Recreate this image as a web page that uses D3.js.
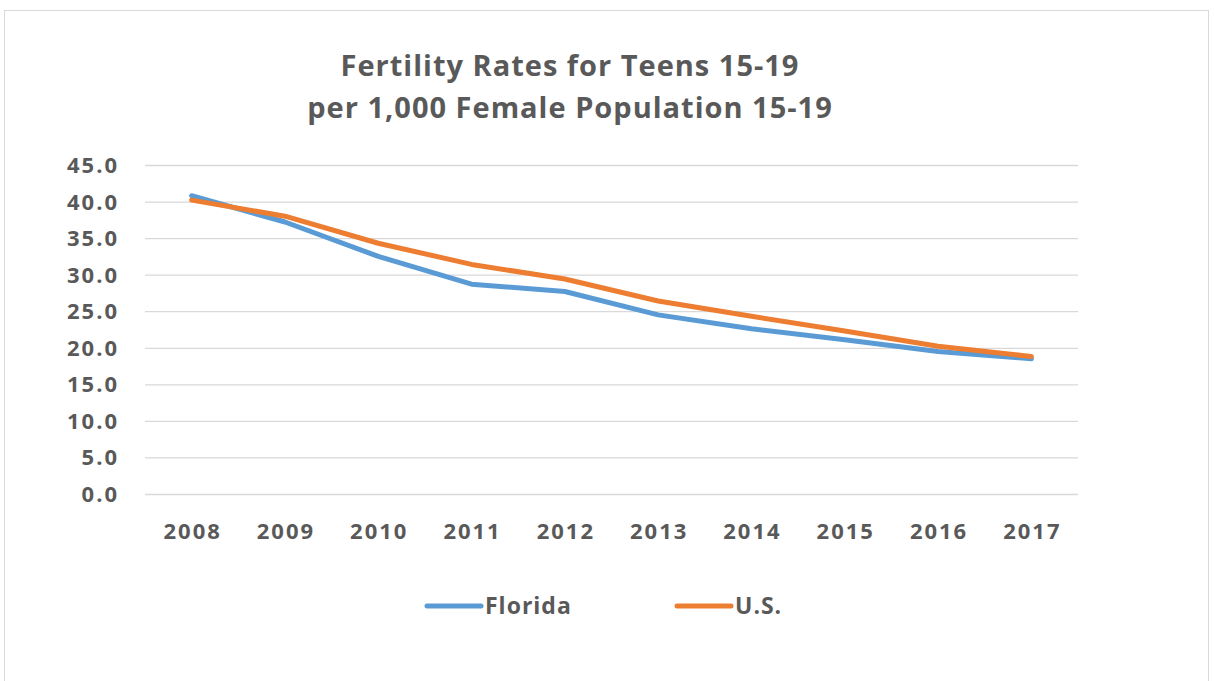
<!DOCTYPE html>
<html>
<head>
<meta charset="utf-8">
<script src="https://cdn.jsdelivr.net/npm/d3@7"></script>
<style>
body { margin: 0; background: #fff; }
svg text { font-family: "Open Sans", "Noto Sans", sans-serif; font-weight: bold; fill: #595959; }
</style>
</head>
<body>
<svg id="chart" width="1214" height="681"></svg>
<script>
var years = ["2008","2009","2010","2011","2012","2013","2014","2015","2016","2017"];
var florida = [40.8, 37.2, 32.5, 28.7, 27.7, 24.5, 22.6, 21.1, 19.5, 18.5];
var us = [40.2, 38.0, 34.3, 31.4, 29.4, 26.4, 24.3, 22.3, 20.2, 18.8];
var yTicks = [0, 5, 10, 15, 20, 25, 30, 35, 40, 45];
var titleLines = ["Fertility Rates for Teens 15-19", "per 1,000 Female Population 15-19"];

var svg = d3.select("#chart");

// chart border
svg.append("rect")
.attr("x", 4.5).attr("y", 10.5)
.attr("width", 1204).attr("height", 690)
.attr("fill", "none")
.attr("stroke", "#d9d9d9");

var x = d3.scaleBand().domain(years).range([145, 1078]);
var y = d3.scaleLinear().domain([0, 45]).range([494, 165]);

// gridlines
svg.append("g")
.selectAll("line")
.data(yTicks)
.enter().append("line")
.attr("x1", 145).attr("x2", 1078)
.attr("y1", d => y(d) + 0.5).attr("y2", d => y(d) + 0.5)
.attr("stroke", "#d9d9d9")
.attr("stroke-width", 1.3);

// y labels
svg.append("g")
.selectAll("text")
.data(yTicks)
.enter().append("text")
.attr("x", 119)
.attr("y", d => y(d) + 8)
.attr("text-anchor", "end")
.style("font-size", "22px")
.style("letter-spacing", "2px")
.text(d => d3.format(".1f")(d));

// x labels
svg.append("g")
.selectAll("text")
.data(years)
.enter().append("text")
.attr("x", d => x(d) + x.bandwidth() / 2 + 1)
.attr("y", 539)
.attr("text-anchor", "middle")
.style("font-size", "22px")
.style("letter-spacing", "2px")
.text(d => d);

var line = d3.line()
.x((d, i) => x(years[i]) + x.bandwidth() / 2)
.y(d => y(d));

var series = [
 {name: "Florida", values: florida, color: "#5b9bd5"},
 {name: "U.S.", values: us, color: "#ed7d31"}
];

series.forEach(s => {
 svg.append("path")
 .datum(s.values)
 .attr("d", line)
 .attr("fill", "none")
 .attr("stroke", s.color)
 .attr("stroke-width", 5)
 .attr("stroke-linejoin", "round")
 .attr("stroke-linecap", "round");
});

// title
svg.append("g")
.selectAll("text")
.data(titleLines)
.enter().append("text")
.attr("x", 570)
.attr("y", (d, i) => 76 + i * 42)
.attr("text-anchor", "middle")
.style("font-size", "29px")
.style("letter-spacing", "1px")
.text(d => d);

// legend
var legendX = [427, 677];
series.forEach((s, i) => {
 var g = svg.append("g").attr("transform", `translate(${legendX[i]},606)`);
 g.append("line")
 .attr("x1", 0).attr("x2", 54)
 .attr("stroke", s.color)
 .attr("stroke-width", 5)
 .attr("stroke-linecap", "round");
 g.append("text")
 .attr("x", 58).attr("y", 8)
 .style("font-size", "23px")
 .style("letter-spacing", "1px")
 .text(s.name);
});
</script>
</body>
</html>
